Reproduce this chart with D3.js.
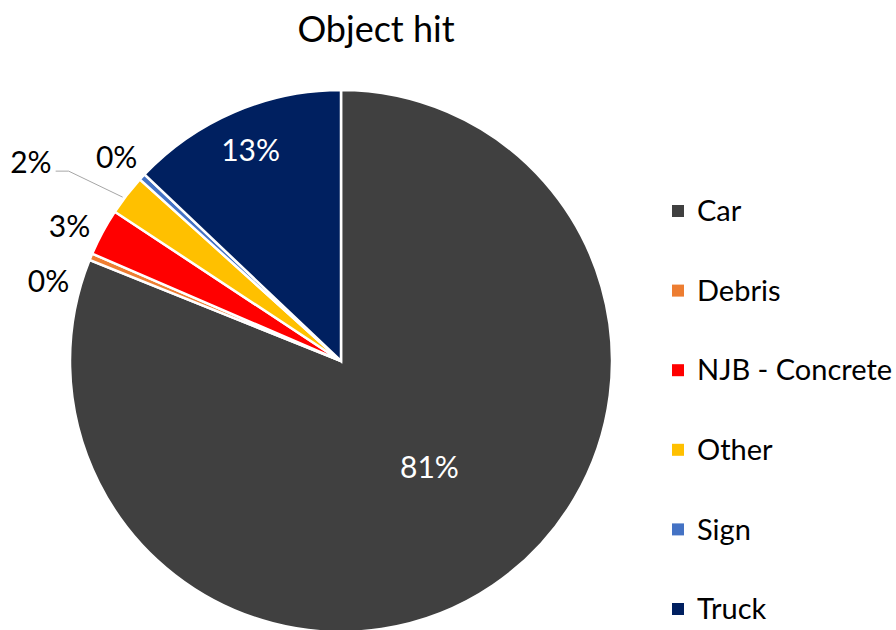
<!DOCTYPE html>
<html>
<head>
<meta charset="utf-8">
<script src="https://cdn.jsdelivr.net/npm/d3@7"></script>
<style>
  body { margin: 0; background: #fff; }
  svg { display: block; font-family: Lato, 'Open Sans', sans-serif; }
</style>
</head>
<body>
<svg id="chart" width="896" height="630"></svg>
<script>
const categories = ['Car', 'Debris', 'NJB - Concrete', 'Other', 'Sign', 'Truck']
const shares = [81.0, 0.4, 2.8, 2.4, 0.4, 12.9]
const colors = ['#404040', '#ED7D31', '#FF0000', '#FFC000', '#4472C4', '#002060']
// small nudges (radians) for the outside labels, like Excel spreads them
const labelShift = [0, -0.13, -0.035, 0, -0.01, 0]

const data = categories.map((name, i) => ({ name, value: shares[i], color: colors[i], shift: labelShift[i] }))
const total = d3.sum(shares)

const svg = d3.select('#chart')
const cx = 341, cy = 361, radius = 271

svg.append('text')
  .attr('x', 376)
  .attr('y', 42)
  .attr('text-anchor', 'middle')
  .style('font-size', '36px')
  .style('fill', '#000')
  .text('Object hit')

const pie = d3.pie().value(d => d.value).sort(null)
const arcs = pie(data)
const arc = d3.arc().innerRadius(0).outerRadius(radius)

const g = svg.append('g').attr('transform', `translate(${cx},${cy})`)

g.selectAll('path')
  .data(arcs)
  .join('path')
  .attr('d', arc)
  .style('fill', d => d.data.color)
  .style('stroke', '#fff')
  .style('stroke-width', 2.5)

const pct = d => Math.round(d.data.value / total * 100) + '%'
const mid = d => (d.startAngle + d.endAngle) / 2
const polar = (a, r) => [Math.sin(a) * r, -Math.cos(a) * r]

// big slices get the label inside, small ones outside
arcs.forEach(d => {
  const a = mid(d) + d.data.shift
  const frac = d.data.value / total
  let pos, fill = '#000', anchor = 'middle', dy = '0.35em'
  if (frac > 0.5) {
    pos = polar(a - 0.1, radius * 0.51)
    fill = '#fff'
  } else if (frac > 0.1) {
    pos = polar(a, radius * 0.845)
    fill = '#fff'
  } else if (d.data.name === 'Other') {
    // pushed out, with a leader line
    const p0 = polar(a - 0.015, radius + 2)
    const p1 = polar(a - 0.05, radius + 61)
    const p2 = [p1[0] - 13, p1[1]]
    g.append('polyline')
      .attr('points', [p0, p1, p2].map(p => p.join(',')).join(' '))
      .style('fill', 'none')
      .style('stroke', '#a6a6a6')
      .style('stroke-width', 1)
    pos = [p2[0] - 4, p2[1] - 9]
    anchor = 'end'
  } else {
    pos = polar(a, radius + 32)
  }
  g.append('text')
    .attr('x', pos[0])
    .attr('y', pos[1])
    .attr('dy', dy)
    .attr('text-anchor', anchor)
    .style('font-size', '30px')
    .style('fill', fill)
    .text(pct(d))
})

const legend = svg.append('g').attr('transform', 'translate(672,211)')
const rows = legend.selectAll('g')
  .data(data)
  .join('g')
  .attr('transform', (d, i) => `translate(0,${i * 79.6})`)

rows.append('rect')
  .attr('x', 0)
  .attr('y', -6)
  .attr('width', 12)
  .attr('height', 12)
  .style('fill', d => d.color)

rows.append('text')
  .attr('x', 25)
  .attr('y', 0)
  .attr('dy', '0.35em')
  .style('font-size', '29px')
  .style('fill', '#000')
  .text(d => d.name)
</script>
</body>
</html>
